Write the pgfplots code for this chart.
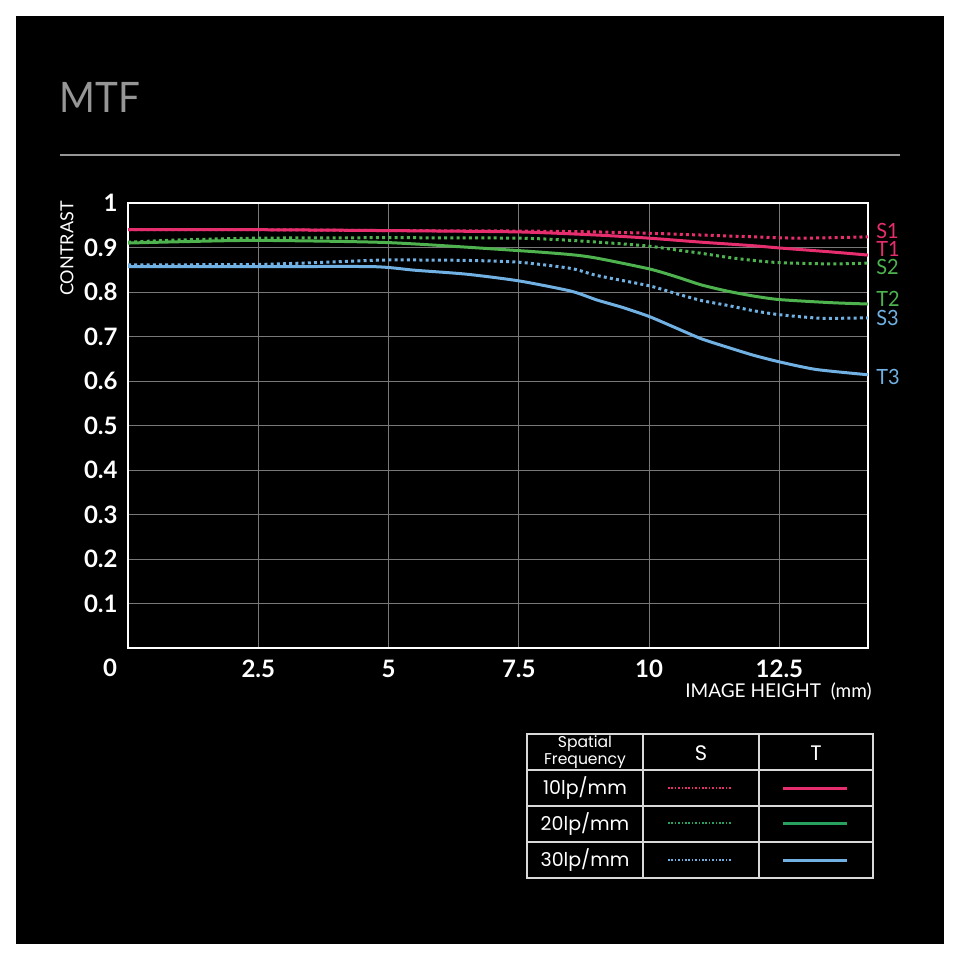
\documentclass[border=0pt]{standalone}
\usepackage{pgfplots}
\pgfplotsset{compat=1.18}
\usepackage{fontspec}
\setmainfont{Lato}
\newfontfamily\popfont{Poppins}
\definecolor{cpink}{RGB}{230,45,110}
\definecolor{cgreen}{RGB}{78,178,78}
\definecolor{cblue}{RGB}{112,176,226}
\definecolor{lgreen}{RGB}{40,160,95}
\definecolor{gridc}{RGB}{120,120,120}
\definecolor{titlec}{RGB}{150,150,150}

\pgfplotstableread{
x y
0 0.940
2.5 0.940
5 0.938
7.5 0.937
9 0.935
10 0.932
11 0.928
12 0.924
12.8 0.921
13.5 0.922
14.2 0.924
}\Sone
\pgfplotstableread{
x y
0 0.940
2.5 0.940
5 0.938
7.5 0.935
9 0.928
10 0.921
11 0.912
12 0.904
12.5 0.899
13.5 0.890
14.2 0.883
}\Tone
\pgfplotstableread{
x y
0 0.912
1 0.917
2.5 0.921
5 0.922
7.5 0.921
8.5 0.916
9.5 0.908
10 0.903
10.5 0.895
11 0.887
11.5 0.878
12 0.871
12.5 0.866
13.5 0.863
14.2 0.865
}\Stwo
\pgfplotstableread{
x y
0 0.910
1 0.913
2.5 0.916
5 0.911
7.5 0.893
8.5 0.884
9 0.876
10 0.852
10.5 0.835
11 0.816
11.5 0.802
12 0.791
12.5 0.783
13.5 0.776
14.2 0.773
}\Ttwo
\pgfplotstableread{
x y
0 0.861
2.5 0.862
4 0.868
5 0.872
6.5 0.871
7.5 0.867
8.5 0.853
9 0.837
10 0.814
10.5 0.797
11 0.781
11.5 0.770
12 0.758
12.5 0.749
13.3 0.741
14.2 0.742
}\Sthree
\pgfplotstableread{
x y
0 0.857
2.5 0.857
4.7 0.857
5.5 0.849
6.5 0.840
7.5 0.825
8.5 0.802
9 0.782
9.5 0.765
10 0.745
10.5 0.720
11 0.695
11.5 0.676
12 0.658
12.5 0.643
13.2 0.626
14.2 0.614
}\Tthree

\begin{document}
\begin{tikzpicture}
\begin{scope}[x=0.5pt,y=-0.5pt]
\fill[white] (0,0) rectangle (960,960);
\fill[black] (16,16) rectangle (944,944);
\node[anchor=base west, inner sep=0, text=titlec, font=\fontsize{21}{21}\selectfont, xscale=0.92] at (59,112) {MTF};
\draw[titlec, line width=0.8pt] (60,155) -- (900,155);
\end{scope}

\begin{axis}[
  at={(64pt,-324pt)}, anchor=south west,
  scale only axis, width=370pt, height=222.5pt,
  xmin=0, xmax=14.2, ymin=0, ymax=1,
  xtick={2.5,5,7.5,10,12.5},
  xticklabels={2.5,5,7.5,10,12.5},
  ytick={0.1,0.2,0.3,0.4,0.5,0.6,0.7,0.8,0.9,1},
  yticklabels={0.1,0.2,0.3,0.4,0.5,0.6,0.7,0.8,0.9,1},
  major tick length=0pt,
  grid=major,
  major grid style={gridc, line width=0.5pt},
  axis line style={white, line width=1pt},
  tick label style={text=white, font=\fontsize{12}{12}\selectfont\bfseries},
  /pgf/number format/assume math mode=true,
  yticklabel style={anchor=east, inner sep=0pt, xshift=-5pt},
  xticklabel style={anchor=north, inner sep=0pt, yshift=-6pt},
  clip=false,
]
\addplot[cpink, line width=1.5pt, dash pattern=on 1.5pt off 1.6pt, smooth, tension=0.4] table {\Sone};
\addplot[cgreen, line width=1.5pt, dash pattern=on 1.5pt off 1.6pt, smooth, tension=0.4] table {\Stwo};
\addplot[cblue, line width=1.5pt, dash pattern=on 1.5pt off 1.6pt, smooth, tension=0.4] table {\Sthree};
\addplot[cgreen, line width=1.5pt, smooth, tension=0.4] table {\Ttwo};
\addplot[cblue, line width=1.5pt, smooth, tension=0.4] table {\Tthree};
\addplot[cpink, line width=1.5pt, smooth, tension=0.4] table {\Tone};
\end{axis}

\begin{scope}[x=0.5pt,y=-0.5pt]
% axis labels
\node[text=white, font=\fontsize{12}{12}\selectfont\bfseries] at (110,668) {0};
\node[rotate=90, anchor=east, inner sep=0, text=white, font=\fontsize{9}{9}\selectfont] at (67,201) {CONTRAST};
\node[anchor=base east, inner sep=0, text=white, font=\fontsize{9.5}{9.5}\selectfont] at (872,697) {IMAGE HEIGHT\ \ (mm)};
% right labels
\begin{scope}[every node/.style={anchor=west, inner sep=0, text height=7pt, text depth=0pt, font=\fontsize{10.5}{10.5}\selectfont, xscale=0.95}]
\node[text=cpink] at (876,231) {S1};
\node[text=cpink] at (876,249) {T1};
\node[text=cgreen] at (876,267) {S2};
\node[text=cgreen] at (876,299) {T2};
\node[text=cblue] at (876,318) {S3};
\node[text=cblue] at (876,377) {T3};
\end{scope}
% legend table
\draw[white!85!black, line width=0.8pt] (527,734) rectangle (873,878);
\draw[white!85!black, line width=0.8pt] (527,770) -- (873,770) (527,806) -- (873,806) (527,842) -- (873,842)
  (643,734) -- (643,878) (759,734) -- (759,878);
\node[text=white, font=\popfont\fontsize{7.8}{7}\selectfont, align=center, inner sep=0] at (585,752) {Spatial\\Frequency};
\node[text=white, font=\popfont\fontsize{10.5}{10.5}\selectfont] at (701,753) {S};
\node[text=white, font=\popfont\fontsize{10.5}{10.5}\selectfont] at (816,753) {T};
\node[text=white, font=\popfont\fontsize{9.5}{9.5}\selectfont] at (585,788) {10lp/mm};
\node[text=white, font=\popfont\fontsize{9.5}{9.5}\selectfont] at (585,824) {20lp/mm};
\node[text=white, font=\popfont\fontsize{9.5}{9.5}\selectfont] at (585,860) {30lp/mm};
\draw[cpink, line width=0.8pt, dash pattern=on 0.8pt off 0.9pt] (668,788) -- (732,788);
\draw[lgreen, line width=0.8pt, dash pattern=on 0.8pt off 0.9pt] (668,823) -- (732,823);
\draw[cblue, line width=0.8pt, dash pattern=on 0.8pt off 0.9pt] (668,860) -- (732,860);
\draw[cpink, line width=1.5pt] (783,788) -- (847,788);
\draw[lgreen, line width=1.5pt] (783,823) -- (847,823);
\draw[cblue, line width=1.5pt] (783,860) -- (847,860);
\end{scope}
\end{tikzpicture}
\end{document}
